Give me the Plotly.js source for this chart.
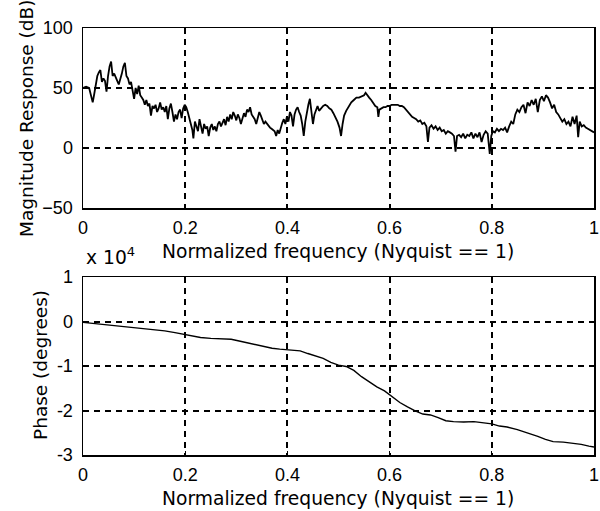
<!DOCTYPE html>
<html><head><meta charset="utf-8">
<script src="https://cdn.plot.ly/plotly-3.0.1.min.js"></script>
<style>html,body{margin:0;padding:0;background:#fff}#chart{width:600px;height:511px}</style>
</head><body><div id="chart"></div>
<script>
const magFreq = [0.000,0.006,0.012,0.016,0.019,0.022,0.025,0.028,0.031,0.034,0.037,0.040,0.043,0.046,0.049,0.052,0.055,0.058,0.061,0.064,0.067,0.070,0.073,0.076,0.079,0.082,0.085,0.088,0.091,0.094,0.097,0.100,0.103,0.106,0.109,0.112,0.115,0.118,0.121,0.124,0.127,0.130,0.133,0.136,0.139,0.142,0.145,0.148,0.151,0.154,0.157,0.160,0.163,0.166,0.169,0.172,0.175,0.178,0.181,0.184,0.187,0.190,0.193,0.196,0.199,0.202,0.205,0.208,0.211,0.214,0.216,0.219,0.222,0.225,0.228,0.231,0.234,0.237,0.240,0.243,0.246,0.249,0.252,0.255,0.258,0.261,0.264,0.267,0.270,0.273,0.276,0.279,0.282,0.285,0.288,0.291,0.294,0.297,0.300,0.303,0.306,0.309,0.312,0.315,0.318,0.321,0.324,0.327,0.330,0.333,0.336,0.339,0.342,0.345,0.348,0.351,0.354,0.357,0.360,0.363,0.366,0.369,0.372,0.375,0.378,0.381,0.384,0.387,0.390,0.393,0.396,0.399,0.402,0.405,0.408,0.411,0.414,0.417,0.420,0.423,0.426,0.429,0.432,0.435,0.438,0.441,0.444,0.447,0.450,0.453,0.456,0.459,0.462,0.466,0.470,0.474,0.478,0.482,0.486,0.490,0.494,0.498,0.502,0.505,0.508,0.511,0.515,0.520,0.525,0.530,0.535,0.540,0.545,0.550,0.553,0.556,0.560,0.564,0.568,0.572,0.576,0.578,0.580,0.584,0.588,0.592,0.596,0.600,0.604,0.608,0.612,0.616,0.620,0.624,0.628,0.632,0.636,0.640,0.644,0.648,0.652,0.656,0.660,0.664,0.668,0.672,0.675,0.678,0.682,0.686,0.690,0.694,0.698,0.702,0.706,0.710,0.714,0.718,0.722,0.726,0.729,0.732,0.736,0.740,0.744,0.748,0.752,0.756,0.760,0.764,0.768,0.772,0.776,0.780,0.784,0.788,0.792,0.796,0.799,0.802,0.806,0.810,0.814,0.818,0.822,0.826,0.830,0.834,0.838,0.842,0.846,0.850,0.854,0.858,0.862,0.866,0.870,0.874,0.878,0.882,0.886,0.890,0.894,0.898,0.902,0.906,0.910,0.914,0.918,0.922,0.926,0.930,0.934,0.938,0.942,0.946,0.950,0.954,0.958,0.962,0.966,0.969,0.972,0.976,0.980,0.984,0.988,0.992,0.996,1.000];
const magDb = [50,51,50,44,38,45,52,60,63,65,55,58,56,47,60,68,72,60,62,58,56,53,57,62,68,71,60,58,53,55,48,41,50,45,52,44,42,40,36,40,35,37,27,35,33,36,30,33,38,32,34,30,35,24,33,37,30,22,28,24,30,32,25,33,36,34,30,26,20,15,8,22,18,14,24,19,12,20,16,18,10,17,20,15,18,14,20,22,18,21,24,19,26,22,28,24,30,27,23,28,25,20,24,29,26,32,30,34,28,26,24,20,25,30,27,23,20,22,20,18,17,16,15,14,10,15,12,18,21,24,20,26,22,30,27,18,28,32,34,30,27,20,10,22,30,36,41,30,20,28,32,35,31,33,35,36,35,33,32,29,26,22,17,10,20,27,31,35,38,40,42,42,43,44,46,44,42,40,37,35,34,26,32,33,34,34,35,35,36,36,36,36,35,35,34,32,30,28,26,25,24,22,23,20,21,18,5,17,19,16,18,15,17,14,15,12,14,13,12,10,-3,10,11,9,12,8,11,10,13,8,12,9,13,5,11,14,12,-5,10,14,13,16,14,16,15,17,13,18,22,20,28,32,30,34,36,29,38,35,40,36,41,30,40,43,39,44,42,38,33,36,30,28,25,22,24,20,22,18,26,20,27,9,22,18,19,17,16,15,14,13];

const phaseFreq = [0.000,0.020,0.040,0.060,0.080,0.100,0.120,0.140,0.160,0.180,0.200,0.215,0.230,0.250,0.270,0.290,0.310,0.330,0.350,0.370,0.385,0.400,0.410,0.425,0.440,0.455,0.470,0.485,0.500,0.515,0.530,0.545,0.560,0.575,0.590,0.600,0.610,0.620,0.635,0.650,0.665,0.680,0.695,0.710,0.725,0.745,0.765,0.785,0.800,0.815,0.830,0.850,0.870,0.890,0.905,0.920,0.940,0.960,0.975,0.990,1.000];
const phaseDeg = [-200,-450,-650,-900,-1200,-1450,-1600,-1800,-2100,-2500,-2900,-3300,-3600,-3800,-3900,-4000,-4500,-5000,-5600,-6000,-6200,-6300,-6500,-6600,-7200,-7800,-8300,-9200,-9800,-10100,-11000,-12400,-13500,-14700,-15600,-16500,-17500,-18200,-19200,-20100,-20800,-21000,-21600,-22300,-22500,-22600,-22500,-22800,-23000,-23500,-23700,-24300,-25000,-25800,-26500,-27000,-27100,-27300,-27600,-28000,-28200];

const xTicks = [0,0.2,0.4,0.6,0.8,1];
const xTickText = ['0','0.2','0.4','0.6','0.8','1'];
const magTicks = [-50,0,50,100];
const phaseTicks = [-30000,-20000,-10000,0,10000];
const phaseTickText = ['-3','-2','-1','0','1'];

const tickFont = {family:'Liberation Sans, Arial, sans-serif', size:18, color:'#000'};
const xTitleFont = {family:'DejaVu Sans, sans-serif', size:18.7, color:'#000'};
const yTitleFont = {family:'DejaVu Sans, sans-serif', size:18.5, color:'#000'};
const xDom = [83/600, 594/600];
const common = {
  showline:true, mirror:true, linecolor:'#000', linewidth:1.5,
  showgrid:true, gridcolor:'#000', gridwidth:2, griddash:'6px,5px',
  zeroline:false, ticks:'inside', ticklen:4, tickcolor:'#000',
  tickfont:tickFont
};

const data = [
  {x:magFreq, y:magDb, type:'scatter', mode:'lines', line:{color:'#000', width:1.8}, xaxis:'x', yaxis:'y', hoverinfo:'skip'},
  {x:phaseFreq, y:phaseDeg, type:'scatter', mode:'lines', line:{color:'#000', width:1.4}, xaxis:'x2', yaxis:'y2', hoverinfo:'skip'}
];

const layout = {
  width:600, height:511, margin:{l:0,r:0,t:0,b:0},
  paper_bgcolor:'#fff', plot_bgcolor:'#fff', showlegend:false,
  font:tickFont,
  xaxis: Object.assign({}, common, {domain:xDom, anchor:'y', range:[0,1], tickvals:xTicks, ticktext:xTickText, ticklabelstandoff:3}),
  yaxis: Object.assign({}, common, {domain:[1-208/511, 1-28/511], anchor:'x', range:[-50,100], tickvals:magTicks, ticklabelstandoff:5}),
  xaxis2: Object.assign({}, common, {domain:xDom, anchor:'y2', range:[0,1], tickvals:xTicks, ticktext:xTickText, ticklabelstandoff:3}),
  yaxis2: Object.assign({}, common, {domain:[1-455/511, 1-277/511], anchor:'x2', range:[-30000,10000], tickvals:phaseTicks, ticktext:phaseTickText, ticklabelstandoff:5}),
  annotations: [
    {text:'Normalized frequency (Nyquist == 1)', xref:'paper', yref:'paper', x:338/600, y:1-251/511, xanchor:'center', yanchor:'middle', showarrow:false, font:xTitleFont},
    {text:'Normalized frequency (Nyquist == 1)', xref:'paper', yref:'paper', x:338/600, y:1-498/511, xanchor:'center', yanchor:'middle', showarrow:false, font:xTitleFont},
    {text:'Magnitude Response (dB)', xref:'paper', yref:'paper', x:26/600, y:1-118/511, xanchor:'center', yanchor:'middle', textangle:-90, showarrow:false, font:yTitleFont},
    {text:'Phase (degrees)', xref:'paper', yref:'paper', x:40/600, y:1-365/511, xanchor:'center', yanchor:'middle', textangle:-90, showarrow:false, font:yTitleFont},
    {text:'x 10<sup>4</sup>', xref:'paper', yref:'paper', x:84/600, y:1-256/511, xanchor:'left', yanchor:'middle', showarrow:false, font:xTitleFont}
  ]
};

Plotly.newPlot('chart', data, layout, {staticPlot:true, displayModeBar:false});
</script>
</body></html>
